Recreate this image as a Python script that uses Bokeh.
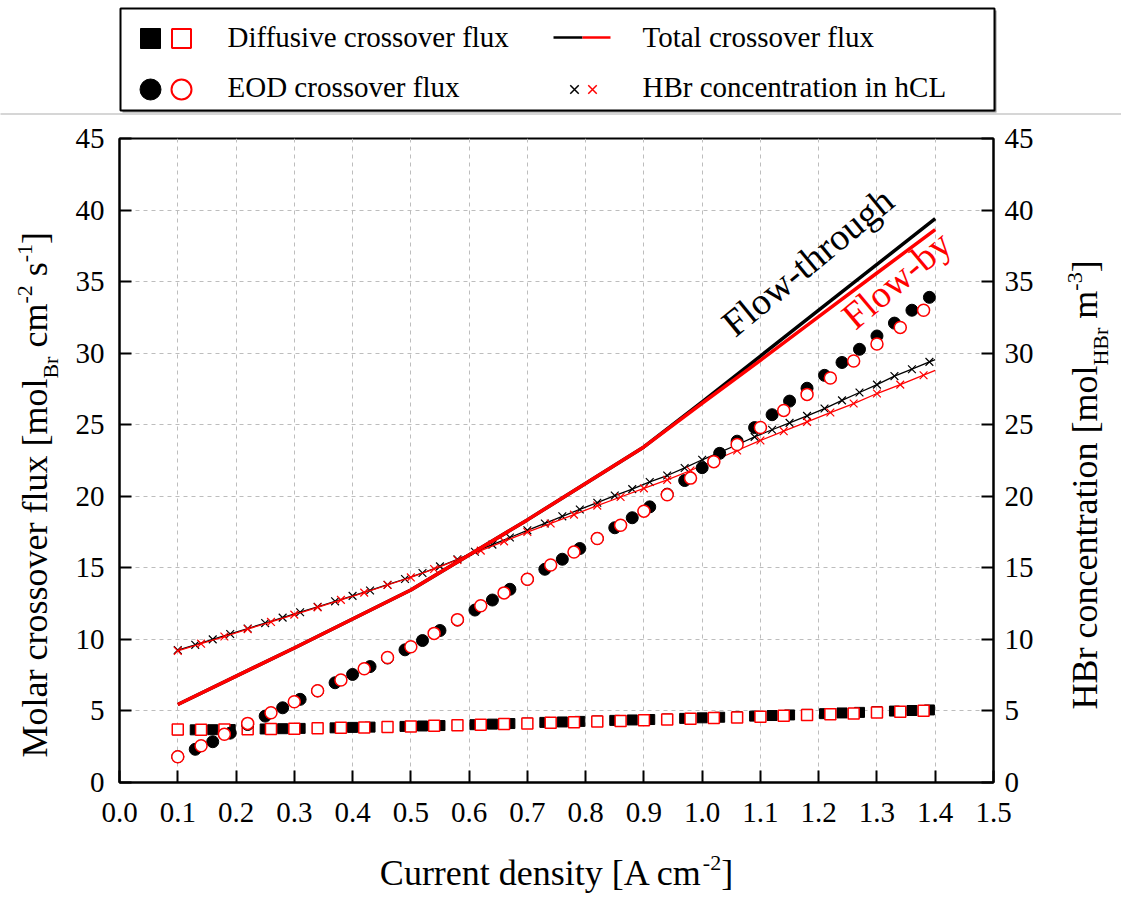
import math
from bokeh.plotting import figure
from bokeh.models import LinearAxis, Range1d, Label, FixedTicker, NumeralTickFormatter
from bokeh.layouts import column
from bokeh.embed import file_html
from bokeh.resources import INLINE
from bokeh.core.properties import value

SERIF = "Liberation Serif"
RED = "#ff0000"
BLACK = "#000000"

# ---------------------------------------------------------------- data
# current density samples [A cm-2]
x_through = [0.10, 0.13, 0.16, 0.19, 0.22, 0.25, 0.28, 0.31, 0.34, 0.37, 0.40,
             0.43, 0.46, 0.49, 0.52, 0.55, 0.58, 0.61, 0.64, 0.67, 0.70, 0.73,
             0.76, 0.79, 0.82, 0.85, 0.88, 0.91, 0.94, 0.97, 1.00, 1.03, 1.06,
             1.09, 1.12, 1.15, 1.18, 1.21, 1.24, 1.27, 1.30, 1.33, 1.36, 1.39]
x_by = [0.10, 0.14, 0.18, 0.22, 0.26, 0.30, 0.34, 0.38, 0.42, 0.46, 0.50,
        0.54, 0.58, 0.62, 0.66, 0.70, 0.74, 0.78, 0.82, 0.86, 0.90, 0.94,
        0.98, 1.02, 1.06, 1.10, 1.14, 1.18, 1.22, 1.26, 1.30, 1.34, 1.38]

# EOD crossover flux
eod_through = [1.80, 2.32, 2.85, 3.45, 4.05, 4.64, 5.22, 5.81, 6.40, 6.97, 7.55,
               8.10, 8.70, 9.27, 9.92, 10.62, 11.35, 12.05, 12.75, 13.50, 14.20, 14.90,
               15.60, 16.35, 17.05, 17.80, 18.50, 19.26, 20.15, 21.10, 22.00, 23.00, 23.85,
               24.80, 25.70, 26.65, 27.55, 28.45, 29.35, 30.27, 31.20, 32.10, 33.00, 33.90]
eod_by = [1.80, 2.57, 3.37, 4.13, 4.87, 5.64, 6.41, 7.16, 7.95, 8.73, 9.48,
          10.42, 11.38, 12.35, 13.25, 14.20, 15.20, 16.10, 17.05, 17.98, 18.96, 20.10,
          21.27, 22.42, 23.62, 24.80, 26.00, 27.12, 28.27, 29.45, 30.64, 31.80, 33.00]

# diffusive crossover flux
diff_through = [3.68, 3.68, 3.69, 3.70, 3.72, 3.74, 3.76, 3.78, 3.80, 3.82, 3.85,
                3.87, 3.90, 3.92, 3.95, 3.98, 4.01, 4.04, 4.08, 4.12, 4.15, 4.20,
                4.23, 4.27, 4.30, 4.34, 4.37, 4.40, 4.44, 4.48, 4.52, 4.56, 4.60,
                4.64, 4.68, 4.72, 4.76, 4.81, 4.86, 4.90, 4.95, 4.99, 5.03, 5.07]
diff_by = [3.70, 3.69, 3.70, 3.72, 3.74, 3.76, 3.79, 3.82, 3.85, 3.88, 3.92,
           3.96, 4.00, 4.04, 4.08, 4.12, 4.17, 4.21, 4.26, 4.30, 4.35, 4.40,
           4.45, 4.50, 4.55, 4.60, 4.66, 4.71, 4.77, 4.83, 4.89, 4.95, 5.01]

# HBr concentration in the hydrogen catalyst layer
hbr_through = [9.25, 9.62, 10.00, 10.38, 10.76, 11.14, 11.52, 11.90, 12.28, 12.66, 13.04,
               13.42, 13.82, 14.22, 14.64, 15.10, 15.60, 16.12, 16.62, 17.12, 17.62, 18.10,
               18.60, 19.08, 19.55, 20.05, 20.50, 21.00, 21.45, 21.98, 22.55, 23.07, 23.60,
               24.15, 24.65, 25.13, 25.62, 26.13, 26.70, 27.25, 27.80, 28.40, 28.88, 29.39]
hbr_by = [9.20, 9.70, 10.20, 10.72, 11.22, 11.73, 12.24, 12.76, 13.27, 13.80, 14.33,
          14.92, 15.55, 16.20, 16.85, 17.50, 18.10, 18.72, 19.35, 19.95, 20.55, 21.15,
          21.80, 22.50, 23.20, 23.90, 24.55, 25.20, 25.85, 26.48, 27.18, 27.80, 28.46]
hbr_end_x = 1.40
hbr_end_through = 29.55
hbr_end_by = 28.80

# total crossover flux
x_total = [0.10, 0.30, 0.50, 0.70, 0.90, 1.00, 1.10, 1.20, 1.30, 1.40]
total_through = [5.45, 9.40, 13.45, 18.35, 23.45, 26.60, 29.80, 33.00, 36.20, 39.40]
total_by = [5.45, 9.40, 13.45, 18.35, 23.45, 26.50, 29.50, 32.55, 35.60, 38.63]

x_ticks = [0.0, 0.1, 0.2, 0.3, 0.4, 0.5, 0.6, 0.7, 0.8, 0.9, 1.0, 1.1, 1.2, 1.3, 1.4, 1.5]
y_ticks = [0, 5, 10, 15, 20, 25, 30, 35, 40, 45]

legend_labels = ["Diffusive crossover flux", "Total crossover flux",
                 "EOD crossover flux", "HBr concentration in hCL"]

# ---------------------------------------------------------------- geometry
W, H = 1121, 897
LEG_H = 116                            # legend strip on top
BOT_H = 56                             # strip holding the x title
FL, FR, FT, FB = 119, 993, 138, 782    # plot frame on the page
MAIN_H = H - LEG_H - BOT_H

# advance widths of the serif face (per 1000 em) used to lay out rich titles
GLYPH_W = {' ': 250, '[': 333, ']': 333, '-': 333, '1': 500, '2': 500, '3': 500,
           'A': 722, 'B': 667, 'C': 667, 'H': 722, 'M': 889, 'a': 444, 'c': 444,
           'd': 500, 'e': 444, 'f': 333, 'i': 278, 'l': 278, 'm': 778, 'n': 500,
           'o': 500, 'r': 333, 's': 389, 't': 278, 'u': 500, 'v': 500, 'x': 500,
           'y': 500}
BIG, SMALL = 36, 22
SUB, SUP = 10, -15
DROP = 0.37          # text glyphs sit this many em below the requested baseline


def text_width(s, size):
    return sum(GLYPH_W.get(ch, 500) for ch in s) * size / 1000.0


def dx(px):
    return (px - FL) / (FR - FL) * 1.5


def dy(py):
    return (FB - py) / (FB - FT) * 45.0


def strip_figure(height, top_px):
    f = figure(width=W, height=height, x_range=Range1d(FL, FR),
               y_range=Range1d(top_px + height, top_px),
               x_axis_type=None, y_axis_type=None,
               min_border_left=FL, min_border_right=W - FR,
               min_border_top=0, min_border_bottom=0,
               output_backend="svg", toolbar_location=None)
    f.outline_line_color = None
    return f


# ---------------------------------------------------------------- legend strip
LEG_FONT = 29
leg = strip_figure(LEG_H, 0)
leg.segment(x0=[0], y0=[113.5], x1=[W], y1=[113.5], line_color="#c8c8c8",
            line_width=1.5, level="overlay")
leg.quad(left=[122], right=[996], top=[10], bottom=[112], fill_color="#8c8c8c",
         line_color=None, level="overlay")
leg.quad(left=[120], right=[994], top=[8], bottom=[110], fill_color="white",
         line_color=BLACK, line_width=2, level="overlay")
leg.scatter([150], [38], marker="square", size=20, fill_color=BLACK, line_color=BLACK,
            level="overlay")
leg.scatter([181], [38], marker="square", size=19, fill_color="white", line_color=RED,
            line_width=2, level="overlay")
leg.scatter([150], [89], marker="circle", size=21, fill_color=BLACK, line_color=BLACK,
            level="overlay")
leg.scatter([181], [89], marker="circle", size=20, fill_color="white", line_color=RED,
            line_width=2, level="overlay")
leg.line([553, 582], [37, 37], line_color=BLACK, line_width=2.5, level="overlay")
leg.line([582, 610], [37, 37], line_color=RED, line_width=2.5, level="overlay")
leg.scatter([574], [89], marker="x", size=12, line_color=BLACK, line_width=1.5, level="overlay")
leg.scatter([592], [89], marker="x", size=12, line_color=RED, line_width=1.5, level="overlay")
base_rows = [47, 47, 97, 97]
leg.text(x=[227, 642, 227, 642], y=[b - DROP * LEG_FONT for b in base_rows],
         text=legend_labels, text_font=value(SERIF), text_font_size=f"{LEG_FONT}px",
         text_color=BLACK, text_baseline="alphabetic", text_align="left", level="overlay")

# ---------------------------------------------------------------- main plot
p = figure(width=W, height=MAIN_H, x_range=Range1d(0, 1.5), y_range=Range1d(0, 45),
           min_border_left=FL, min_border_right=W - FR,
           min_border_top=FT - LEG_H, min_border_bottom=MAIN_H - (FB - LEG_H),
           output_backend="svg", toolbar_location=None)
p.outline_line_color = BLACK
p.outline_line_width = 2
p.background_fill_color = "white"
p.border_fill_color = "white"

p.extra_y_ranges = {"conc": Range1d(0, 45)}
right_axis = LinearAxis(y_range_name="conc")
p.add_layout(right_axis, "right")

p.xaxis[0].ticker = FixedTicker(ticks=x_ticks)
p.xaxis[0].formatter = NumeralTickFormatter(format="0.0")
p.yaxis[0].ticker = FixedTicker(ticks=y_ticks)
right_axis.ticker = FixedTicker(ticks=y_ticks)

for ax in (p.xaxis[0], p.yaxis[0], right_axis):
    ax.axis_line_width = 2
    ax.axis_line_color = BLACK
    ax.major_tick_line_width = 2
    ax.major_tick_line_color = BLACK
    ax.major_tick_in = 12
    ax.major_tick_out = 0
    ax.minor_tick_line_color = None
    ax.major_label_text_font = SERIF
    ax.major_label_text_font_size = "29px"
    ax.major_label_text_color = BLACK
p.xaxis[0].major_label_standoff = 20
p.yaxis[0].major_label_standoff = 15
right_axis.major_label_standoff = 11

p.xgrid.ticker = FixedTicker(ticks=x_ticks)
p.ygrid.ticker = FixedTicker(ticks=y_ticks)
for g in (p.xgrid[0], p.ygrid[0]):
    g.grid_line_color = "#bdbdbd"
    g.grid_line_dash = "4 4"
    g.grid_line_width = 1

# HBr concentration (right axis)
p.line(x_through + [hbr_end_x], hbr_through + [hbr_end_through], line_color=BLACK,
       line_width=1.3, y_range_name="conc")
p.scatter(x_through, hbr_through, marker="x", size=11, line_color=BLACK, line_width=1.2,
          y_range_name="conc")
p.line(x_by + [hbr_end_x], hbr_by + [hbr_end_by], line_color=RED, line_width=1.3,
       y_range_name="conc")
p.scatter(x_by, hbr_by, marker="x", size=11, line_color=RED, line_width=1.2,
          y_range_name="conc")

# total crossover flux
p.line(x_total, total_through, line_color=BLACK, line_width=3.5)
p.line(x_total, total_by, line_color=RED, line_width=3.5)

# diffusive crossover flux
p.scatter(x_through, diff_through, marker="square", size=10, fill_color=BLACK, line_color=BLACK)
p.scatter(x_by, diff_by, marker="square", size=11, fill_color="white", line_color=RED,
          line_width=1.5)

# EOD crossover flux
p.scatter(x_through, eod_through, marker="circle", size=12, fill_color=BLACK, line_color=BLACK)
p.scatter(x_by, eod_by, marker="circle", size=12, fill_color="white", line_color=RED,
          line_width=1.5)

# configuration tags along the total-flux lines
TAG_ANGLE = math.radians(39.5)
nudge_x, nudge_y = -7 * math.sin(TAG_ANGLE), -7 * math.cos(TAG_ANGLE)
p.add_layout(Label(x=dx(731 + nudge_x), y=dy(333 + nudge_y), text="Flow-through",
                   angle=TAG_ANGLE, text_font=SERIF, text_font_size="38px",
                   text_color=BLACK, text_align="left", text_baseline="alphabetic"))
p.add_layout(Label(x=dx(851 + nudge_x), y=dy(326 + nudge_y), text="Flow-by",
                   angle=math.radians(40), text_font=SERIF, text_font_size="38px",
                   text_color=RED, text_align="left", text_baseline="alphabetic"))


# ---------------------------------------------------------------- axis titles
def vertical_title(parts, base_x, start_y):
    """Rotated title built from plain, subscript and superscript runs."""
    y = start_y
    for txt, kind in parts:
        size = BIG if kind == "n" else SMALL
        shift = {"n": 0, "sub": SUB, "sup": SUP}[kind] - DROP * size
        lead = len(txt) - len(txt.lstrip(" "))
        body = txt.strip(" ")
        p.text(x=[dx(base_x + shift)], y=[dy(y - text_width(" " * lead, size))], text=[body],
               angle=math.pi / 2, text_font=value(SERIF), text_font_size=f"{size}px",
               text_color=BLACK, text_align="left", text_baseline="alphabetic",
               level="overlay")
        y -= text_width(txt, size)


def horizontal_title(fig, parts, center_x, base_y):
    total = sum(text_width(t, BIG if k == "n" else SMALL) for t, k in parts)
    x = center_x - total / 2
    for txt, kind in parts:
        size = BIG if kind == "n" else SMALL
        shift = {"n": 0, "sub": SUB, "sup": SUP}[kind] - DROP * size
        lead = len(txt) - len(txt.lstrip(" "))
        body = txt.strip(" ")
        fig.text(x=[x + text_width(" " * lead, size)], y=[base_y + shift], text=[body],
                 text_font=value(SERIF), text_font_size=f"{size}px", text_color=BLACK,
                 text_align="left", text_baseline="alphabetic", level="overlay")
        x += text_width(txt, size)


vertical_title([("Molar crossover flux [mol", "n"), ("Br", "sub"), (" cm", "n"),
                ("-2", "sup"), (" s", "n"), ("-1", "sup"), ("]", "n")], 48, 757)
vertical_title([("HBr concentration [mol", "n"), ("HBr", "sub"), (" m", "n"),
                ("-3", "sup"), ("]", "n")], 1098, 709)

bot = strip_figure(BOT_H, H - BOT_H)
horizontal_title(bot, [("Current density [A cm", "n"), ("-2", "sup"), ("]", "n")], 556, 886)

page = column(leg, p, bot, spacing=0)
open("out.html", "w").write(file_html(page, INLINE, title="Crossover flux"))
